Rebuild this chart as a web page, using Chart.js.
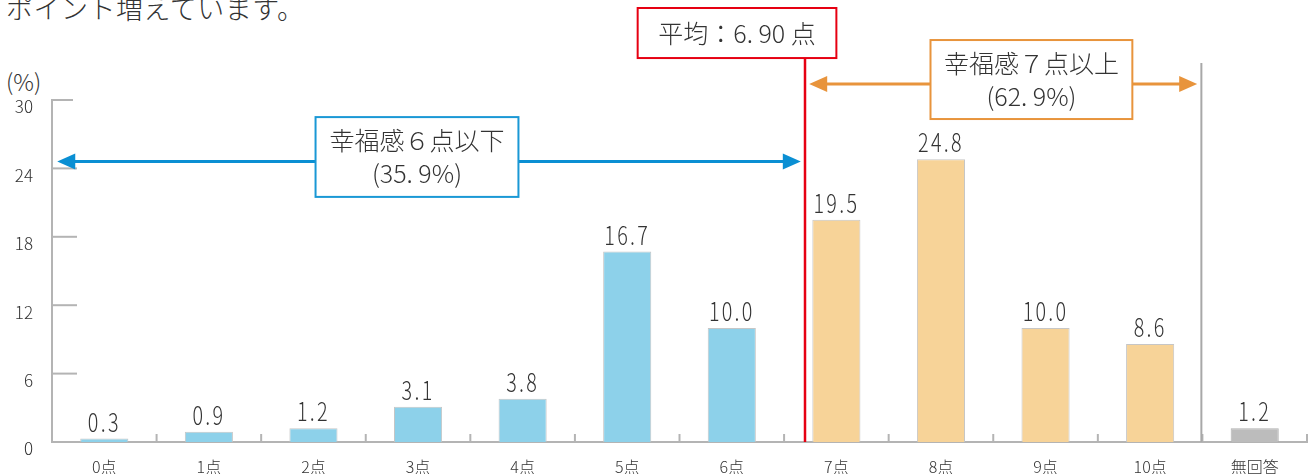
<!DOCTYPE html>
<html lang="ja">
<head>
<meta charset="utf-8">
<script src="https://cdn.jsdelivr.net/npm/chart.js@4"></script>
<style>
  html, body { margin: 0; padding: 0; background: #fff; }
  #wrap { position: relative; width: 1311px; height: 474px; overflow: hidden; font-family: "Noto Sans CJK JP", "Noto Sans", sans-serif; color: #333; }
  #lead { position: absolute; left: 6px; top: -6px; font-size: 27px; line-height: 28px; font-weight: 300; white-space: nowrap; letter-spacing: 0.5px; }
  #unit { position: absolute; left: 6px; top: 67px; font-size: 23px; line-height: 28px; font-weight: 300; }
  canvas { position: absolute; left: 0; top: 0; }
</style>
</head>
<body>
<div id="wrap">
  <div id="lead">ポイント増えています。</div>
  <div id="unit">(%)</div>
  <canvas id="chart" width="1311" height="474"></canvas>
</div>
<script>
// data
const categories = ['0点', '1点', '2点', '3点', '4点', '5点', '6点', '7点', '8点', '9点', '10点', '無回答'];
const values = [0.3, 0.9, 1.2, 3.1, 3.8, 16.7, 10.0, 19.5, 24.8, 10.0, 8.6, 1.2];
const yTicks = [0, 6, 12, 18, 24, 30];

const meanText = '平均：6. 90 点';
const lowText = ['幸福感６点以下', '(35. 9%)'];
const highText = ['幸福感７点以上', '(62. 9%)'];

const BLUE = '#8dd1ea', ORANGE = '#f7d398', GRAY = '#bcbcbc';
const barColor = (i) => i <= 6 ? BLUE : (i <= 10 ? ORANGE : GRAY);

const FONT = '"Noto Sans CJK JP", "Noto Sans", sans-serif';

function box(ctx, x1, y1, x2, y2, color, lines, size, lineGap) {
  ctx.save();
  ctx.fillStyle = '#fff';
  ctx.fillRect(x1, y1, x2 - x1, y2 - y1);
  ctx.strokeStyle = color;
  ctx.lineWidth = 2;
  ctx.strokeRect(x1, y1, x2 - x1, y2 - y1);
  ctx.fillStyle = '#333';
  ctx.font = '300 ' + size + 'px ' + FONT;
  ctx.textAlign = 'center';
  ctx.textBaseline = 'middle';
  const cx = (x1 + x2) / 2, cy = (y1 + y2) / 2;
  lines.forEach((t, k) => {
    ctx.fillText(t, cx, cy + (k - (lines.length - 1) / 2) * lineGap);
  });
  ctx.restore();
}

function arrow(ctx, x1, x2, y, color) {
  ctx.save();
  ctx.strokeStyle = color;
  ctx.fillStyle = color;
  ctx.lineWidth = 3;
  ctx.beginPath();
  ctx.moveTo(x1 + 10, y);
  ctx.lineTo(x2 - 10, y);
  ctx.stroke();
  const L = 18, H = 8;
  ctx.beginPath();
  ctx.moveTo(x1, y); ctx.lineTo(x1 + L, y - H); ctx.lineTo(x1 + L, y + H); ctx.closePath();
  ctx.fill();
  ctx.beginPath();
  ctx.moveTo(x2, y); ctx.lineTo(x2 - L, y - H); ctx.lineTo(x2 - L, y + H); ctx.closePath();
  ctx.fill();
  ctx.restore();
}

const decor = {
  id: 'decor',
  afterDatasetsDraw(chart) {
    const { ctx, scales: { x, y } } = chart;
    const X = (v) => x.getPixelForValue(v);
    const Y = (v) => y.getPixelForValue(v);

    // inner ticks
    ctx.save();
    ctx.strokeStyle = '#b4b4b4';
    ctx.lineWidth = 2;
    yTicks.forEach(t => {
      if (t === 0) return;
      ctx.beginPath();
      ctx.moveTo(x.left, Y(t));
      ctx.lineTo(x.left + (t === 30 ? 21 : 25), Y(t));
      ctx.stroke();
    });
    const step = (x.right - x.left) / categories.length;
    for (let i = 1; i <= categories.length; i++) {
      const px = x.left + i * step;
      ctx.beginPath();
      ctx.moveTo(px, y.bottom);
      ctx.lineTo(px, y.bottom - 8);
      ctx.stroke();
    }
    ctx.restore();

    // value labels
    const meta = chart.getDatasetMeta(0);
    ctx.save();
    ctx.fillStyle = '#333';
    ctx.font = '300 26px ' + FONT;
    ctx.textAlign = 'center';
    ctx.textBaseline = 'alphabetic';
    meta.data.forEach((bar, i) => {
      ctx.save();
      ctx.translate(bar.x, bar.y - 7);
      ctx.scale(0.76, 1);
      ctx.letterSpacing = '3px';
      ctx.fillText(values[i].toFixed(1), 0, 0);
      ctx.restore();
    });
    ctx.restore();

    // gray separator before 無回答
    ctx.save();
    ctx.strokeStyle = '#a8a8a8';
    ctx.lineWidth = 2;
    ctx.beginPath();
    ctx.moveTo(X(10.49), Y(33.25));
    ctx.lineTo(X(10.49), Y(0));
    ctx.stroke();
    ctx.restore();

    // low group arrow + box
    arrow(ctx, X(-0.45), X(6.66), Y(24.6), '#0a8fd3');
    box(ctx, X(2.02), Y(28.5), X(3.96), Y(21.5), '#1a98d5', lowText, 25, 33);

    // high group arrow + box
    arrow(ctx, X(6.74), X(10.45), Y(31.4), '#e8943c');
    box(ctx, X(7.9), Y(35.26), X(9.83), Y(28.33), '#e8943c', highText, 25, 33);

    // mean line + box
    ctx.save();
    ctx.strokeStyle = '#e60012';
    ctx.lineWidth = 2.5;
    ctx.beginPath();
    ctx.moveTo(X(6.7), Y(33.68));
    ctx.lineTo(X(6.7), Y(0));
    ctx.stroke();
    ctx.restore();
    box(ctx, X(5.1), Y(38.07), X(7.0), Y(33.68), '#e60012', [meanText], 25, 0);
  }
};

new Chart(document.getElementById('chart'), {
  type: 'bar',
  data: {
    labels: categories,
    datasets: [{
      data: values,
      backgroundColor: values.map((v, i) => barColor(i)),
      borderColor: values.map((v, i) => i === 11 ? '#b0b0b0' : '#c6c6c6'),
      borderWidth: 1,
      borderSkipped: 'bottom',
      categoryPercentage: 1,
      barPercentage: 0.46
    }]
  },
  options: {
    responsive: false,
    animation: false,
    events: [],
    layout: { padding: { top: 100, right: 4, left: 0, bottom: 0 } },
    plugins: { legend: { display: false }, tooltip: { enabled: false }, title: { display: false } },
    scales: {
      x: {
        afterFit: (s) => { s.height = 32; },
        grid: { display: false, drawTicks: false },
        border: { display: true, color: '#b4b4b4', width: 2 },
        ticks: { color: '#333', padding: 15, font: { family: FONT, size: 16, weight: 300 } }
      },
      y: {
        min: 0,
        max: 30,
        afterFit: (s) => { s.width = 52; },
        afterBuildTicks: (s) => { s.ticks = yTicks.map(v => ({ value: v })); },
        grid: { display: false, drawTicks: false },
        border: { display: true, color: '#b4b4b4', width: 2 },
        ticks: { color: '#333', padding: 19, labelOffset: 7, font: { family: FONT, size: 17, weight: 300 } }
      }
    }
  },
  plugins: [decor]
});
</script>
</body>
</html>
